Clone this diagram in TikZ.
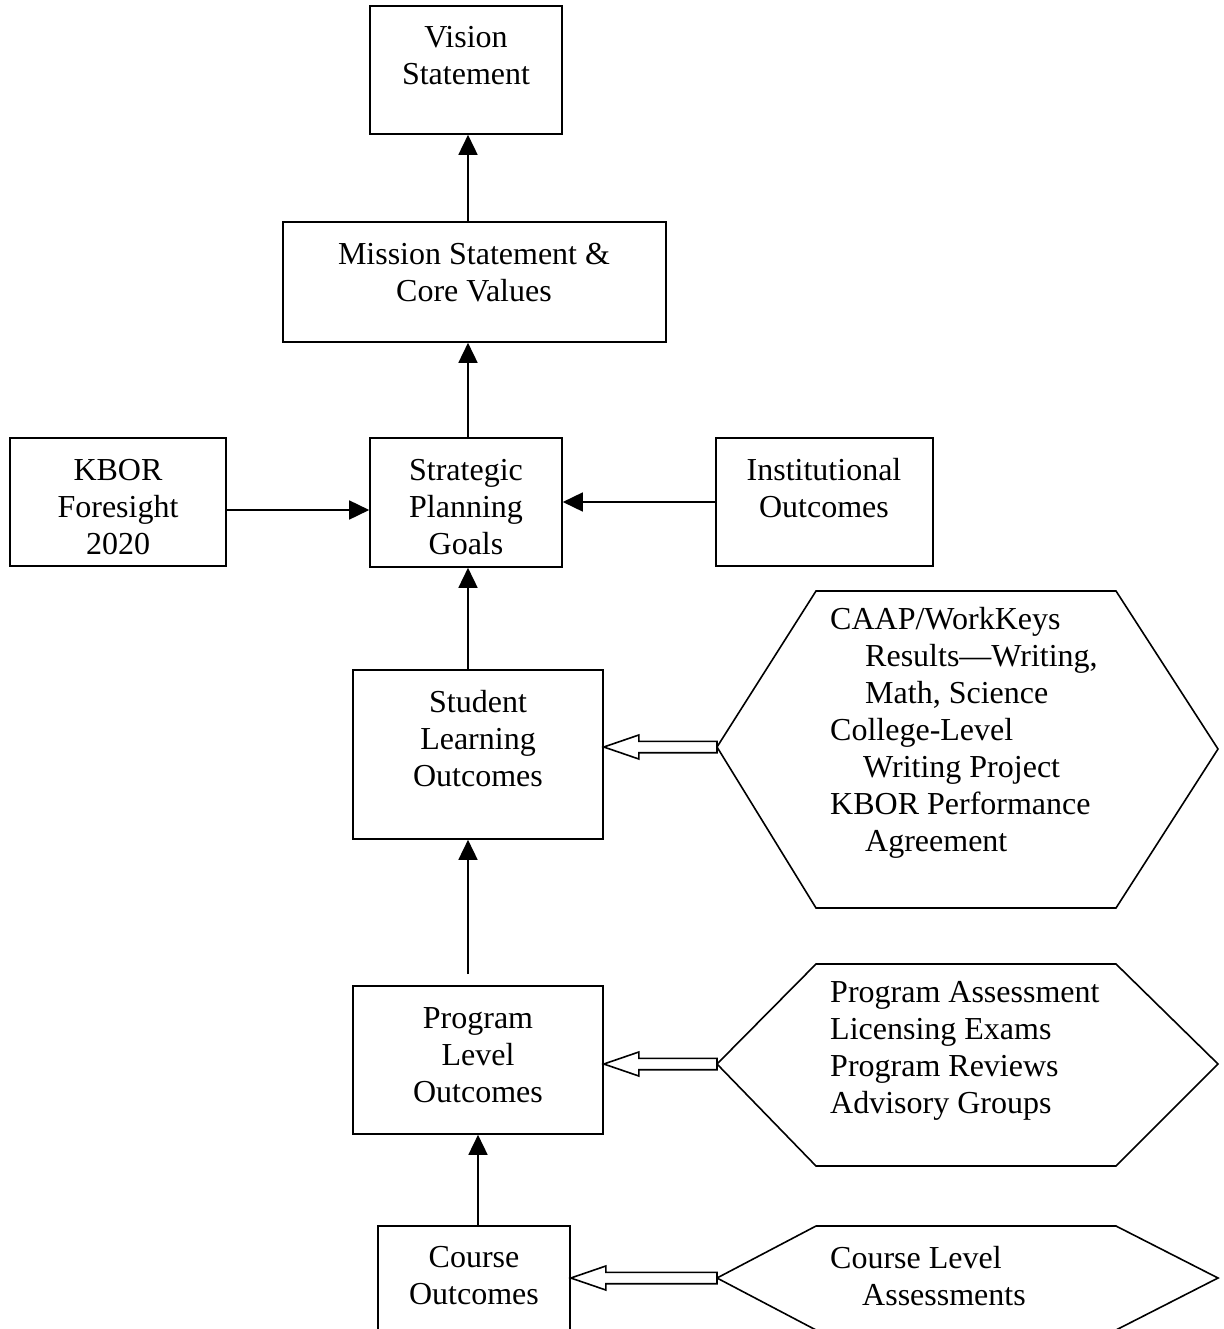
\documentclass[tikz,border=0pt]{standalone}
\usepackage{fontspec}
\setmainfont{Liberation Serif}
\usetikzlibrary{arrows.meta,calc}
\begin{document}
\begin{tikzpicture}[x=1pt,y=-1pt,
  lw/.style={line width=1.6pt},
  box/.style={draw,lw,rectangle,inner sep=0pt},
  txt/.style={font=\fontsize{32}{37}\selectfont,inner sep=0pt,align=center},
  hexline/.style={draw,lw,line join=miter},
  arr/.style={lw,-{Triangle[length=20pt,width=19pt]}},
  hollow/.style={draw,lw,fill=white,line join=miter}]
\useasboundingbox (0,0) rectangle (1223,1329);
\clip (0,0) rectangle (1223,1329);
\fill[white] (0,0) rectangle (1223,1329);
% boxes
\node[box,minimum width=192pt,minimum height=128pt] (vis) at (466,70) {};
\node[box,minimum width=383pt,minimum height=120pt] (mis) at (474.5,282) {};
\node[box,minimum width=192pt,minimum height=129pt] (sp) at (466,502.5) {};
\node[box,minimum width=216pt,minimum height=128pt] (kb) at (118,502) {};
\node[box,minimum width=217pt,minimum height=128pt] (io) at (824.5,502) {};
\node[box,minimum width=250pt,minimum height=169pt] (slo) at (478,754.5) {};
\node[box,minimum width=250pt,minimum height=148pt] (plo) at (478,1060) {};
\node[box,minimum width=192pt,minimum height=140pt] (co) at (474,1296) {};
% texts
\node[txt] (visT) at (466,56) {Vision\\Statement};
\node[txt] (misT) at (474,273) {Mission Statement \&\\Core Values};
\node[txt] (spT) at (466,507) {Strategic\\Planning\\Goals};
\node[txt] (kbT) at (118,507) {KBOR\\Foresight\\2020};
\node[txt] (ioT) at (824,488) {Institutional\\Outcomes};
\node[txt] (sloT) at (478,739) {Student\\Learning\\Outcomes};
\node[txt] (ploT) at (478,1055) {Program\\Level\\Outcomes};
\node[txt] (coT) at (474,1276) {Course\\Outcomes};
% hexagons
\coordinate (h1) at (717,747);
\draw[hexline] (h1) -- (816,591) -- (1116,591) -- (1218,749) -- (1116,908) -- (816,908) -- cycle;
\coordinate (h2) at (717,1064);
\draw[hexline] (h2) -- (816,964) -- (1116,964) -- (1218,1064) -- (1116,1166) -- (816,1166) -- cycle;
\coordinate (h3) at (717,1278);
\draw[hexline] (h3) -- (816,1226) -- (1116,1226) -- (1218,1278) -- (1116,1330) -- (816,1330) -- cycle;
\node[txt,align=left,anchor=west] (h1T) at (830,733) {CAAP/WorkKeys\\\hspace*{35pt}Results---Writing,\\\hspace*{35pt}Math, Science\\College-Level\\\hspace*{33pt}Writing Project\\KBOR Performance\\\hspace*{35pt}Agreement};
\node[txt,align=left,anchor=west] (h2T) at (830,1051) {Program Assessment\\Licensing Exams\\Program Reviews\\Advisory Groups};
\node[txt,align=left,anchor=west] (h3T) at (830,1276) {Course Level\\\hspace*{32pt}Assessments};
% solid arrows
\draw[arr] ([xshift=2pt]vis.south |- mis.north) -- ([xshift=2pt]vis.south);
\draw[arr] ([xshift=2pt]sp.north) -- ([xshift=2pt]sp.north |- mis.south);
\draw[arr] ([xshift=2pt]sp.south |- slo.north) -- ([xshift=2pt]sp.south);
\draw[arr] ($([xshift=2pt]sp.south |- plo.north)+(0,-11)$) -- ([xshift=2pt]sp.south |- slo.south);
\draw[arr] (plo.south |- co.north) -- (plo.south);
\draw[arr] ([yshift=-8pt]kb.east) -- ([yshift=-8pt]kb.east -| sp.west);
\draw[arr] (io.west) -- (io.west -| sp.east);
% hollow block arrows
\coordinate (t1) at (slo.east |- h1);
\draw[hollow] ($(h1)+(0,-5.7)$) -- ($(t1)+(35,-5.7)$) -- ($(t1)+(35,-12)$) -- (t1) -- ($(t1)+(35,12)$) -- ($(t1)+(35,5.7)$) -- ($(h1)+(0,5.7)$) -- cycle;
\coordinate (t2) at (plo.east |- h2);
\draw[hollow] ($(h2)+(0,-5.7)$) -- ($(t2)+(35,-5.7)$) -- ($(t2)+(35,-12)$) -- (t2) -- ($(t2)+(35,12)$) -- ($(t2)+(35,5.7)$) -- ($(h2)+(0,5.7)$) -- cycle;
\coordinate (t3) at (co.east |- h3);
\draw[hollow] ($(h3)+(0,-5.7)$) -- ($(t3)+(35,-5.7)$) -- ($(t3)+(35,-12)$) -- (t3) -- ($(t3)+(35,12)$) -- ($(t3)+(35,5.7)$) -- ($(h3)+(0,5.7)$) -- cycle;
\end{tikzpicture}
\end{document}
